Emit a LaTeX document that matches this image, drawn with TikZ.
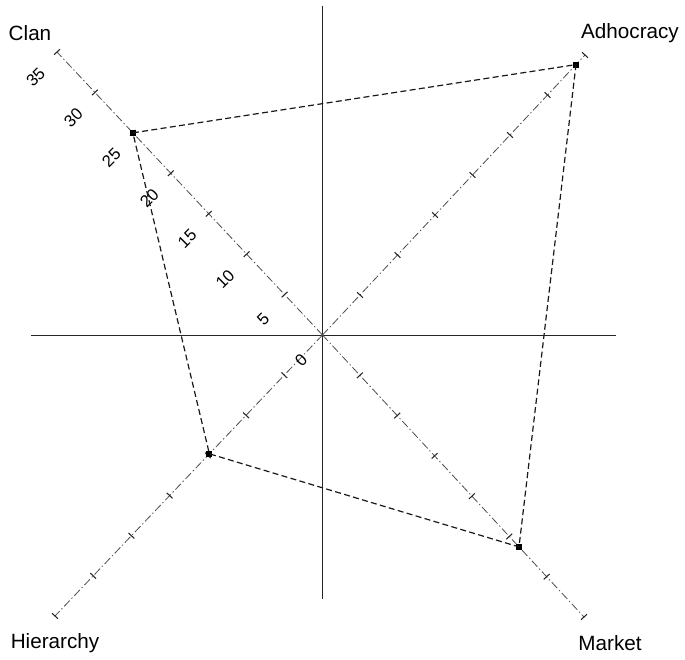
\documentclass[tikz,border=0pt]{standalone}
\usepackage{fontspec}
\setmainfont{Liberation Sans}
\usetikzlibrary{calc}
\begin{document}
\begin{tikzpicture}[x=0.75pt,y=-0.75pt,
  mainaxis/.style={line width=0.9pt,black!85},
  diagaxis/.style={line width=0.6pt,black!70,dash pattern=on 6pt off 2pt on 1pt off 2pt},
  axistick/.style={line width=0.8pt,black!85},
  poly/.style={line width=0.9pt,black!90,dash pattern=on 4.5pt off 2.5pt},
  datapt/.style={fill=black,inner sep=0pt,minimum size=4.5pt,rectangle},
  catlabel/.style={font=\fontsize{15.5}{18}\selectfont,inner sep=0pt},
  ticklabel/.style={font=\fontsize{12.5}{14}\selectfont,inner sep=0pt,rotate=45}]
\useasboundingbox (0,0) rectangle (685,660);

% centre and axis end points
\coordinate (O) at (322.5,335);
\coordinate (clanEnd) at (57,52);
\coordinate (adhEnd) at (585,55);
\coordinate (hierEnd) at (55,616);
\coordinate (mktEnd) at (584,617);
\coordinate (hL) at (31,335.5);
\coordinate (hR) at (616,335.5);
\coordinate (vT) at (322.5,6);
\coordinate (vB) at (322.5,599);

% horizontal and vertical axes
\draw[mainaxis] (hL) -- (hR);
\draw[mainaxis] (vT) -- (vB);

% diagonal scale axes with ticks every 5 units
\foreach \e in {clanEnd,adhEnd,hierEnd,mktEnd}{
  \draw[diagaxis] (O) -- (\e);
  \foreach \k in {5,10,...,35}{
    \coordinate (tk) at ($(O)!\k/35!(\e)$);
    \draw[axistick] ($(tk)!3pt!90:(O)$) -- ($(tk)!3pt!-90:(O)$);
  }
}

% scale numbers along the Clan axis
\foreach \k in {0,5,...,35}{
  \node[ticklabel] (lab\k) at ($(O)!\k/35!(clanEnd)+(-21.5,25)$) {\k};
}

% profile values
\node[datapt] (clan) at ($(O)!25/35!(clanEnd)$) {};
\node[datapt] (adh) at ($(O)!33.8/35!(adhEnd)$) {};
\node[datapt] (mkt) at ($(O)!26.3/35!(mktEnd)$) {};
\node[datapt] (hier) at ($(O)!14.8/35!(hierEnd)$) {};
\draw[poly] (clan.center) -- (adh.center) -- (mkt.center) -- (hier.center) -- cycle;

% quadrant names
\node[catlabel] (clanName) at (30,33) {Clan};
\node[catlabel] (adhName) at (630,33) {Adhocracy};
\node[catlabel] (hierName) at (55,643) {Hierarchy};
\node[catlabel] (mktName) at (610,643) {Market};
\end{tikzpicture}
\end{document}
